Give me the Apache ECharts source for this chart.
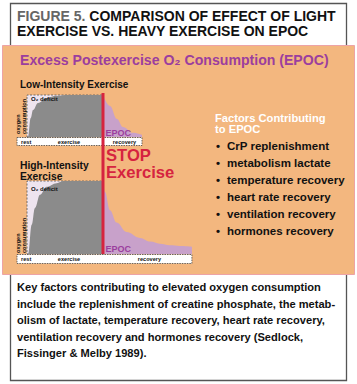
<!DOCTYPE html>
<html><head><meta charset="utf-8">
<script src="https://cdn.jsdelivr.net/npm/echarts@6/dist/echarts.min.js"></script>
<style>html,body{margin:0;padding:0;background:#fff}#c{width:357px;height:384px}</style>
</head><body><div id="c"></div>
<script>
// ---------- data ----------
const figLabel = 'FIGURE 5.';
const titleLine1 = 'COMPARISON OF EFFECT OF LIGHT';
const titleLine2 = 'EXERCISE VS. HEAVY EXERCISE ON EPOC';
const heading = 'Excess Postexercise O\u2082 Consumption (EPOC)';
const panelTitles = ['Low-Intensity Exercise', 'High-Intensity\nExercise'];
const yAxisName = 'oxygen\nconsumption';
const deficitLabel = 'O\u2082 deficit';
const epocLabel = 'EPOC';
const stopLabels = ['STOP', 'Exercise'];
const phaseLabels = ['rest', 'exercise', 'recovery'];
const factorsTitle = 'Factors Contributing\nto EPOC';
const factors = ['CrP replenishment', 'metabolism lactate', 'temperature recovery',
  'heart rate recovery', 'ventilation recovery', 'hormones recovery'];
const captionLines = [
  'Key factors contributing to elevated oxygen consumption',
  'include the replenishment of creatine phosphate, the metab-',
  'olism of lactate, temperature recovery, heart rate recovery,',
  'ventilation recovery and hormones recovery (Sedlock,',
  'Fissinger & Melby 1989).'
];

const stopTime = 10;
// low-intensity: oxygen consumption during exercise (relative)
const lowO2Time = [0, 0.13, 0.49, 0.79, 1.45, 2.6, 3.9, 5, 10];
const lowO2 = [0, 0, 0.45, 0.64, 0.81, 0.93, 0.98, 1, 1];
// low-intensity: EPOC during recovery
const lowEpocTime = [10, 10.92, 11.84, 12.63, 13.95, 15.13];
const lowEpoc = [1, 0.74, 0.43, 0.24, 0.10, 0.05];
// high-intensity: oxygen consumption during exercise
const highO2Time = [0, 0.15, 0.62, 1.05, 1.71, 2.59, 3.9, 4.8, 10];
const highO2 = [0, 0, 0.40, 0.63, 0.81, 0.92, 0.97, 1, 1];
// high-intensity: EPOC during recovery
const highEpocTime = [10, 10.26, 10.92, 11.8, 13.1, 14.87, 16.2, 17.5, 18.8, 20.1, 21.7];
const highEpoc = [1, 0.85, 0.60, 0.43, 0.30, 0.22, 0.17, 0.14, 0.12, 0.11, 0.10];

// ---------- chart ----------
const FONT = '"Liberation Sans", Arial, Helvetica, sans-serif';
const PX_PER_UNIT = 7.6;
const chart = echarts.init(document.getElementById('c'), null, {renderer: 'svg', width: 357, height: 384});

const lowEnd = lowEpocTime[lowEpocTime.length - 1];
const highEnd = highEpocTime[highEpocTime.length - 1];
const zip = (a, b) => a.map((t, i) => [t, b[i]]);

const grids = [
  {left: 27, top: 95, width: lowEnd * PX_PER_UNIT, height: 42},
  {left: 27, top: 181, width: highEnd * PX_PER_UNIT, height: 73}
];

function panelSeries(gi, o2t, o2v, et, ev) {
  return [
    {type: 'line', xAxisIndex: gi, yAxisIndex: gi, z: 1, silent: true, data: [],
      markArea: {silent: true, itemStyle: {color: '#EEE4EF', borderWidth: 0},
        data: [[{xAxis: 0, yAxis: 0}, {xAxis: stopTime, yAxis: 1}]]}},
    {type: 'line', xAxisIndex: gi, yAxisIndex: gi, z: 2, silent: true,
      data: zip(o2t, o2v), smooth: 0.4, smoothMonotone: 'x', symbol: 'none',
      lineStyle: {width: 0}, areaStyle: {color: '#8B8B8B', opacity: 1}},
    {type: 'line', xAxisIndex: gi, yAxisIndex: gi, z: 3, silent: true,
      data: zip(et, ev), smooth: 0.4, smoothMonotone: 'x', symbol: 'none',
      lineStyle: {width: 0}, areaStyle: {color: '#C8A1CA', opacity: 1},
      markArea: {silent: true, itemStyle: {color: 'rgba(0,0,0,0)', borderColor: '#555', borderWidth: 0.8, borderType: [2, 1.5]},
        data: [[{xAxis: 0, yAxis: 0}, {xAxis: stopTime, yAxis: 1}]]}}
  ];
}

chart.setOption({
  animation: false,
  grid: grids,
  xAxis: [
    {type: 'value', gridIndex: 0, min: 0, max: lowEnd, show: false},
    {type: 'value', gridIndex: 1, min: 0, max: highEnd, show: false}
  ],
  yAxis: [
    {type: 'value', gridIndex: 0, min: 0, max: 1, show: false},
    {type: 'value', gridIndex: 1, min: 0, max: 1, show: false}
  ],
  series: [
    ...panelSeries(0, lowO2Time, lowO2, lowEpocTime, lowEpoc),
    ...panelSeries(1, highO2Time, highO2, highEpocTime, highEpoc)
  ]
});

function txt(x, y, text, opt) {
  return Object.assign({type: 'text', x: x, y: y, z: 10, silent: true,
    style: Object.assign({text: text, fontFamily: FONT, fontWeight: 'bold', fontSize: 11,
      fill: '#111', align: 'left', verticalAlign: 'middle'}, opt || {})});
}

const els = [];
// outer frame and orange panel
els.push({type: 'rect', z: -5, silent: true, shape: {x: 10.5, y: 3.5, width: 336, height: 377},
  style: {fill: '#fff', stroke: '#555', lineWidth: 1.3}});
els.push({type: 'rect', z: -4, silent: true, shape: {x: 2.5, y: 45.5, width: 352, height: 229},
  style: {fill: '#F3B77F', stroke: '#EDA3A6', lineWidth: 1}});
// titles
els.push(txt(17, 16, '{g|' + figLabel + '} ' + titleLine1, {fontSize: 14, fill: '#111',
  rich: {g: {fill: '#666', fontSize: 14, fontWeight: 'bold', fontFamily: FONT}}}));
els.push(txt(17, 31, titleLine2, {fontSize: 14}));
els.push(txt(20, 60, heading, {fontSize: 14.1, fill: '#9B3E9E'}));
els.push(txt(20, 84, panelTitles[0], {fontSize: 10}));
els.push(txt(20, 171, panelTitles[1], {fontSize: 10.3, lineHeight: 10.5}));

// panel decorations
const stripH = [8, 9];
const yNameBottom = [134, 253];
const deficitY = [98.5, 189];
const epocY = [132.5, 248.5];
[0, 1].forEach(gi => {
  const end = gi === 0 ? lowEnd : highEnd;
  const p0 = chart.convertToPixel({gridIndex: gi}, [0, 0]);
  const pS = chart.convertToPixel({gridIndex: gi}, [stopTime, 0]);
  const pE = chart.convertToPixel({gridIndex: gi}, [end, 1]);
  const sx = p0[0] - 10, sy = p0[1] + 0.5, sw = pE[0] - sx, sh = stripH[gi];
  els.push({type: 'rect', z: 5, silent: true, shape: {x: sx, y: sy, width: sw, height: sh},
    style: {fill: '#fff', stroke: '#444', lineWidth: 0.8, lineDash: [1.5, 1]}});
  const cy = sy + sh / 2;
  els.push(txt(sx + 4, cy, phaseLabels[0], {fontSize: 5.6}));
  els.push(txt(p0[0] + 42, cy, phaseLabels[1], {fontSize: 5.6, align: 'center'}));
  els.push(txt((pS[0] + pE[0]) / 2 + 2, cy, phaseLabels[2], {fontSize: 5.6, align: 'center'}));
  els.push({type: 'text', x: p0[0] - 6, y: yNameBottom[gi], rotation: Math.PI / 2, z: 10, silent: true,
    style: {text: yAxisName, fontFamily: FONT, fontWeight: 'bold', fontSize: 5.6, lineHeight: 5.4,
      fill: '#111', align: 'left', verticalAlign: 'middle'}});
  els.push(txt(p0[0] + 4, deficitY[gi], deficitLabel, {fontSize: 6}));
  els.push(txt(pS[0] + 2.5, epocY[gi], epocLabel, {fontSize: 9, fill: '#9B3E9E'}));
});

// stop line across both panels
const lt = chart.convertToPixel({gridIndex: 0}, [stopTime, 1]);
const lb = chart.convertToPixel({gridIndex: 1}, [stopTime, 0]);
els.push({type: 'line', z: 12, silent: true, shape: {x1: lt[0], y1: lt[1] - 2, x2: lb[0], y2: lb[1]},
  style: {stroke: '#D6243F', lineWidth: 3}});
els.push(txt(lt[0] + 3, 155, stopLabels[0], {fontSize: 16.6, fill: '#D6243F'}));
els.push(txt(lt[0] + 3, 172.7, stopLabels[1], {fontSize: 16.6, fill: '#D6243F'}));

// factors
els.push(txt(215, 123.5, factorsTitle, {fontSize: 11.2, lineHeight: 11.6, fill: '#fff'}));
factors.forEach((f, i) => {
  const y = 146 + i * 17;
  els.push(txt(216, y, '\u2022', {fontSize: 11.5}));
  els.push(txt(227, y, f, {fontSize: 11.5}));
});

// caption
captionLines.forEach((l, i) => {
  els.push(txt(17, 287 + i * 16.6, l, {fontSize: 11.1}));
});

chart.setOption({graphic: {elements: els}});
</script>
</body></html>
